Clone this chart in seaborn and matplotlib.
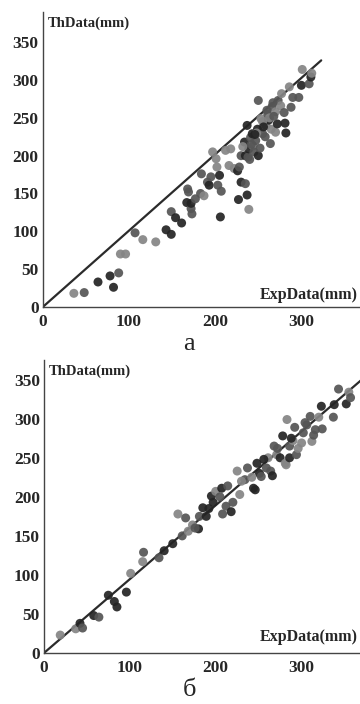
import matplotlib
matplotlib.use("Agg")
import matplotlib.pyplot as plt
import seaborn as sns
import pandas as pd

# panel "а" : experimental vs theoretical (mm)
exp_a = [36, 48, 64, 78, 82, 88, 90, 96, 107, 116, 131, 143, 149, 149, 154, 161,
         168, 169, 167, 172, 173, 172, 177, 183, 184, 187, 191, 193, 195, 197, 201,
         202, 203, 205, 207, 206, 212, 218, 216, 222, 226, 228, 227, 230, 235, 237,
         239, 230, 234, 235, 238, 239, 241, 243, 237, 244, 247, 249, 250, 253, 255,
         259, 261, 262, 264, 265, 266, 270, 270, 272, 273, 276, 277, 280, 281, 282,
         286, 288, 290, 297, 300, 301, 309, 311, 312, 242, 245, 250, 255, 258, 260,
         263, 267, 248, 252, 240, 256, 268, 232, 246]
th_a = [18, 19, 33, 41, 26, 45, 70, 70, 98, 89, 86, 102, 126, 96, 118, 111,
        156, 152, 138, 130, 123, 137, 143, 150, 176, 147, 165, 161, 172, 205, 196,
        185, 161, 174, 153, 119, 207, 209, 187, 183, 180, 185, 142, 165, 163, 148,
        129, 200, 218, 200, 198, 209, 224, 229, 240, 213, 220, 235, 273, 249, 229,
        240, 255, 247, 216, 235, 265, 258, 231, 242, 273, 266, 282, 257, 243, 230,
        291, 264, 277, 277, 293, 314, 295, 304, 309, 215, 205, 200, 245, 225, 260,
        250, 270, 230, 210, 195, 238, 252, 212, 228]
shade_a = list("lmdddmllml" "ldmdddmmdm" "mdmmmlmdml" "llmdmdllll" "dmddmdlmdd"
               "mdmddlmdml" "mlmdmlmlld" "mllmddlmmm" "dlmdlmmdlm" "mlmlmmdmld")

line_a_x = [0, 323]
line_a_y = [0, 326]

# panel "б"
exp_b = [19, 37, 42, 58, 64, 75, 85, 96, 101, 115, 116, 134, 140, 156, 161, 165,
         168, 173, 180, 181, 185, 189, 195, 197, 200, 207, 208, 214, 212, 218, 220,
         225, 228, 234, 237, 244, 246, 248, 251, 253, 259, 261, 264, 266, 268, 271,
         275, 278, 281, 282, 283, 286, 286, 290, 292, 294, 296, 300, 302, 306, 310,
         312, 314, 316, 320, 323, 324, 337, 338, 343, 352, 355, 357, 45, 82, 150,
         176, 192, 205, 230, 242, 256, 272, 288, 304]
th_b = [23, 31, 38, 48, 46, 74, 59, 78, 102, 117, 129, 122, 131, 178, 150, 173,
        156, 164, 159, 175, 186, 175, 201, 193, 207, 211, 178, 214, 188, 181, 193,
        233, 203, 222, 237, 211, 209, 243, 230, 226, 237, 250, 233, 227, 265, 254,
        250, 278, 243, 241, 299, 265, 250, 272, 289, 254, 262, 269, 282, 292, 303,
        271, 279, 286, 302, 316, 287, 302, 318, 338, 319, 334, 327, 32, 66, 140,
        160, 185, 200, 220, 225, 248, 262, 275, 295]
shade_b = list("llddmdddll" "mmdlmmlldm" "ddddldmmmd" "mllmmddddm" "mlmdmlddll"
               "lmdlmmllmm" "mlmmldmmdm" "dlmmddmdml" "ldmdm")

line_b_x = [0, 370]
line_b_y = [0, 350]

ticks_x = [0, 100, 200, 300]
ticks_y = [0, 50, 100, 150, 200, 250, 300, 350]
y_label = "ThData(mm)"
x_label = "ExpData(mm)"
panel_names = ["а", "б"]

shade_colors = {"d": "#242424", "m": "#555555", "l": "#858585"}

sns.set_style("white")
plt.rcParams["font.family"] = ["Liberation Serif", "DejaVu Serif"]

fig = plt.figure(figsize=(3.6, 7.04), dpi=100)
ax_a = fig.add_axes([0.119, 0.564, 0.881, 0.419])
ax_b = fig.add_axes([0.122, 0.0724, 0.878, 0.416])

panels = [
    (ax_a, exp_a, th_a, shade_a, line_a_x, line_a_y, (0, 368), (0, 390), 0.963, 0.04),
    (ax_b, exp_b, th_b, shade_b, line_b_x, line_b_y, (0, 368), (0, 375), 0.962, 0.055),
]

for ax, xs, ys, shades, lx, ly, xlim, ylim, ty, ey in panels:
    df = pd.DataFrame({"exp": xs, "th": ys, "shade": shades})
    sns.scatterplot(data=df, x="exp", y="th", hue="shade", palette=shade_colors,
                    s=42, alpha=0.92, linewidth=0, legend=False, ax=ax, zorder=3)
    sns.lineplot(x=lx, y=ly, color="#2b2b2b", linewidth=1.6, ax=ax, zorder=2)
    ax.set_xlim(*xlim)
    ax.set_ylim(*ylim)
    ax.set_xticks(ticks_x)
    ax.set_yticks(ticks_y)
    ax.set_xlabel("")
    ax.set_ylabel("")
    ax.tick_params(direction="in", length=4, width=1, color="#444444", pad=3,
                   labelsize=12.5)
    ax.tick_params(axis="x", pad=5)
    for lab in ax.get_xticklabels() + ax.get_yticklabels():
        lab.set_fontweight("bold")
    sns.despine(ax=ax)
    for side in ["left", "bottom"]:
        ax.spines[side].set_color("#444444")
        ax.spines[side].set_linewidth(1.0)
    ax.text(0.016, ty, y_label, transform=ax.transAxes, fontsize=10.5,
            fontweight="bold", ha="left", va="center")
    ax.text(0.994, ey, x_label, transform=ax.transAxes, fontsize=11.5,
            fontweight="bold", ha="right", va="center")

fig.text(0.525, 1 - 344 / 704, panel_names[0], fontsize=19, ha="center", va="center")
fig.text(0.525, 1 - 690 / 704, panel_names[1], fontsize=19, ha="center", va="center")

fig.savefig("out.png", dpi=100)
